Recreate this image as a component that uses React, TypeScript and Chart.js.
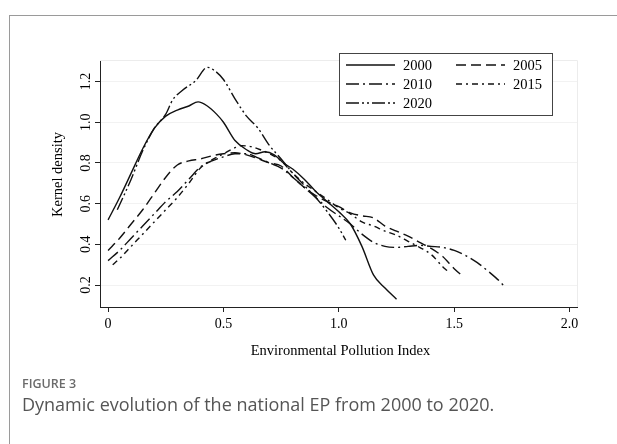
import React, { useEffect, useRef } from "react";
import { Chart, registerables } from "chart.js";

Chart.register(...registerables);

// ---- data ----
const SERIES_NAMES = ["2000", "2005", "2010", "2015", "2020"];
const X_TICKS = [0, 0.5, 1.0, 1.5, 2.0];
const X_TICK_LABELS = ["0", "0.5", "1.0", "1.5", "2.0"];
const Y_TICKS = [0.2, 0.4, 0.6, 0.8, 1.0, 1.2];
const Y_TICK_LABELS = ["0.2", "0.4", "0.6", "0.8", "1.0", "1.2"];

const x2000 = [0, 0.05, 0.1, 0.15, 0.2, 0.25, 0.3, 0.35, 0.39, 0.43, 0.47, 0.5, 0.55, 0.6, 0.64, 0.68, 0.72, 0.76, 0.8, 0.85, 0.9, 0.95, 1.0, 1.05, 1.1, 1.15, 1.2, 1.25];
const y2000 = [0.52, 0.63, 0.75, 0.87, 0.97, 1.03, 1.06, 1.08, 1.1, 1.08, 1.04, 1.0, 0.91, 0.865, 0.845, 0.855, 0.84, 0.8, 0.77, 0.72, 0.66, 0.61, 0.56, 0.5, 0.39, 0.25, 0.185, 0.13];

const x2005 = [0, 0.05, 0.1, 0.15, 0.2, 0.25, 0.3, 0.35, 0.4, 0.45, 0.5, 0.55, 0.6, 0.65, 0.7, 0.75, 0.8, 0.85, 0.9, 0.95, 1.0, 1.05, 1.1, 1.15, 1.2, 1.25, 1.3, 1.35, 1.4, 1.45, 1.5, 1.54];
const y2005 = [0.37, 0.43, 0.5, 0.57, 0.65, 0.73, 0.79, 0.81, 0.82, 0.835, 0.845, 0.85, 0.84, 0.82, 0.8, 0.785, 0.73, 0.68, 0.64, 0.61, 0.585, 0.555, 0.54, 0.53, 0.49, 0.465, 0.44, 0.41, 0.38, 0.34, 0.28, 0.24];

const x2010 = [0, 0.05, 0.1, 0.15, 0.2, 0.25, 0.3, 0.35, 0.4, 0.45, 0.5, 0.55, 0.6, 0.65, 0.7, 0.75, 0.8, 0.85, 0.9, 0.95, 1.0, 1.05, 1.1, 1.15, 1.2, 1.25, 1.3, 1.35, 1.4, 1.45, 1.5, 1.55, 1.6, 1.65, 1.7, 1.72];
const y2010 = [0.32, 0.37, 0.43, 0.49, 0.55, 0.61, 0.66, 0.72, 0.78, 0.81, 0.83, 0.845, 0.845, 0.825, 0.8, 0.775, 0.73, 0.68, 0.63, 0.58, 0.54, 0.5, 0.45, 0.41, 0.39, 0.385, 0.39, 0.395, 0.39, 0.385, 0.37, 0.345, 0.31, 0.265, 0.215, 0.19];

const x2015 = [0.02, 0.05, 0.1, 0.15, 0.2, 0.25, 0.3, 0.35, 0.4, 0.45, 0.5, 0.55, 0.58, 0.62, 0.66, 0.7, 0.75, 0.8, 0.85, 0.9, 0.95, 1.0, 1.05, 1.1, 1.15, 1.2, 1.25, 1.3, 1.35, 1.4, 1.45, 1.47];
const y2015 = [0.3, 0.33, 0.39, 0.45, 0.51, 0.57, 0.63, 0.7, 0.775, 0.815, 0.845, 0.875, 0.885, 0.88, 0.865, 0.845, 0.81, 0.75, 0.7, 0.66, 0.62, 0.58, 0.55, 0.51, 0.49, 0.465, 0.445, 0.415, 0.385, 0.35, 0.29, 0.27];

const x2020 = [0.04, 0.1, 0.15, 0.2, 0.25, 0.28, 0.32, 0.38, 0.43, 0.46, 0.5, 0.55, 0.6, 0.65, 0.7, 0.75, 0.8, 0.85, 0.9, 0.95, 1.0, 1.03];
const y2020 = [0.57, 0.72, 0.86, 0.97, 1.04, 1.11, 1.155, 1.205, 1.27, 1.255, 1.21, 1.115, 1.03, 0.97, 0.885, 0.82, 0.75, 0.69, 0.63, 0.56, 0.48, 0.42];

const SERIES_X = [x2000, x2005, x2010, x2015, x2020];
const SERIES_Y = [y2000, y2005, y2010, y2015, y2020];
const DASHES: number[][] = [[], [10, 5], [13, 4, 2, 4], [6, 4, 2, 4], [13, 3, 2, 3, 2, 3]];

const X_TITLE = "Environmental Pollution Index";
const Y_TITLE = "Kernel density";

const SERIF = "'Liberation Serif', 'Times New Roman', serif";

const overlayPlugin = {
  id: "stataOverlay",
  afterDraw(chart: any) {
    const { ctx, chartArea, scales } = chart;
    const xs = scales.x;
    const ys = scales.y;
    ctx.save();
    // faint plot-region border (top, right)
    ctx.strokeStyle = "#ececec";
    ctx.lineWidth = 1;
    ctx.beginPath();
    ctx.moveTo(chartArea.left, chartArea.top + 0.5);
    ctx.lineTo(chartArea.right + 0.5, chartArea.top + 0.5);
    ctx.lineTo(chartArea.right + 0.5, chartArea.bottom);
    ctx.stroke();

    ctx.fillStyle = "#000";
    // x tick labels
    ctx.font = `14px ${SERIF}`;
    ctx.textAlign = "center";
    ctx.textBaseline = "middle";
    X_TICKS.forEach((v, i) => {
      ctx.fillText(X_TICK_LABELS[i], xs.getPixelForValue(v), chartArea.bottom + 17);
    });
    // y tick labels (rotated)
    Y_TICKS.forEach((v, i) => {
      ctx.save();
      ctx.translate(chartArea.left - 14, ys.getPixelForValue(v));
      ctx.rotate(-Math.PI / 2);
      ctx.fillText(Y_TICK_LABELS[i], 0, 0);
      ctx.restore();
    });
    // axis titles
    ctx.font = `14.5px ${SERIF}`;
    ctx.fillText(X_TITLE, (chartArea.left + chartArea.right) / 2 + 2, chartArea.bottom + 44);
    ctx.save();
    ctx.translate(chartArea.left - 42, (chartArea.top + chartArea.bottom) / 2 - 9);
    ctx.rotate(-Math.PI / 2);
    ctx.fillText(Y_TITLE, 0, 0);
    ctx.restore();

    // legend
    const bx = 339.5, by = 53.5, bw = 213, bh = 62;
    ctx.fillStyle = "#fff";
    ctx.fillRect(bx, by, bw, bh);
    ctx.strokeStyle = "#444";
    ctx.lineWidth = 1;
    ctx.setLineDash([]);
    ctx.strokeRect(bx, by, bw, bh);
    const cols = [346, 456];
    const rows = [65, 84, 103];
    ctx.font = `14.5px ${SERIF}`;
    ctx.textAlign = "left";
    chart.data.datasets.forEach((ds: any, i: number) => {
      const cx = cols[i % 2];
      const cy = rows[Math.floor(i / 2)];
      ctx.strokeStyle = ds.borderColor;
      ctx.lineWidth = ds.borderWidth;
      ctx.setLineDash(ds.borderDash || []);
      ctx.beginPath();
      ctx.moveTo(cx, cy);
      ctx.lineTo(cx + 49, cy);
      ctx.stroke();
      ctx.setLineDash([]);
      ctx.fillStyle = "#000";
      ctx.fillText(ds.label, cx + 57, cy + 1);
    });
    ctx.restore();
  },
};

export default function App() {
  const ref = useRef<HTMLCanvasElement | null>(null);
  useEffect(() => {
    if (!ref.current) return;
    const datasets = SERIES_NAMES.map((name, i) => ({
      label: name,
      data: SERIES_X[i].map((x, j) => ({ x, y: SERIES_Y[i][j] })),
      borderColor: "#111",
      borderWidth: 1.4,
      borderDash: DASHES[i],
      pointRadius: 0,
      fill: false,
      cubicInterpolationMode: "monotone" as const,
    }));
    const chart = new Chart(ref.current, {
      type: "line",
      data: { datasets },
      options: {
        responsive: false,
        animation: false,
        layout: { padding: { left: 0, right: 40, top: 60, bottom: 0 } },
        plugins: { legend: { display: false }, tooltip: { enabled: false } },
        scales: {
          x: {
            type: "linear",
            min: -0.035,
            max: 2.032,
            afterBuildTicks: (s: any) => {
              s.ticks = X_TICKS.map((v) => ({ value: v }));
            },
            afterFit: (s: any) => {
              s.height = 137;
            },
            ticks: { display: false },
            grid: { drawOnChartArea: false, drawTicks: true, tickLength: 5, tickColor: "#222", tickWidth: 1 },
            border: { display: true, color: "#222", width: 1 },
          },
          y: {
            type: "linear",
            min: 0.092,
            max: 1.306,
            afterBuildTicks: (s: any) => {
              s.ticks = Y_TICKS.map((v) => ({ value: v }));
            },
            afterFit: (s: any) => {
              s.width = 100;
            },
            ticks: { display: false },
            grid: { drawOnChartArea: true, color: "#f2f2f2", drawTicks: true, tickLength: 5, tickColor: "#222", tickWidth: 1 },
            border: { display: true, color: "#222", width: 1 },
          },
        },
      },
      plugins: [overlayPlugin],
    });
    return () => chart.destroy();
  }, []);

  return (
    <div style={{ position: "absolute", left: 0, top: 0, width: 617, height: 444, overflow: "hidden", background: "#fff" }}>
      <div style={{ position: "absolute", left: 9, top: 15, width: 700, height: 600, borderLeft: "1.5px solid #9a9a9a", borderTop: "1.5px solid #9a9a9a" }} />
      <canvas ref={ref} width={617} height={444} style={{ position: "absolute", left: 0, top: 0, width: 617, height: 444 }} />
      <div style={{ position: "absolute", left: 22, top: 375, fontFamily: "'Open Sans', sans-serif", fontSize: 12.5, fontWeight: 600, color: "#6b6b6b" }}>FIGURE 3</div>
      <div style={{ position: "absolute", left: 22, top: 392, fontFamily: "'Open Sans', sans-serif", fontSize: 18, color: "#555", whiteSpace: "nowrap" }}>
        Dynamic evolution of the national EP from 2000 to 2020.
      </div>
    </div>
  );
}
